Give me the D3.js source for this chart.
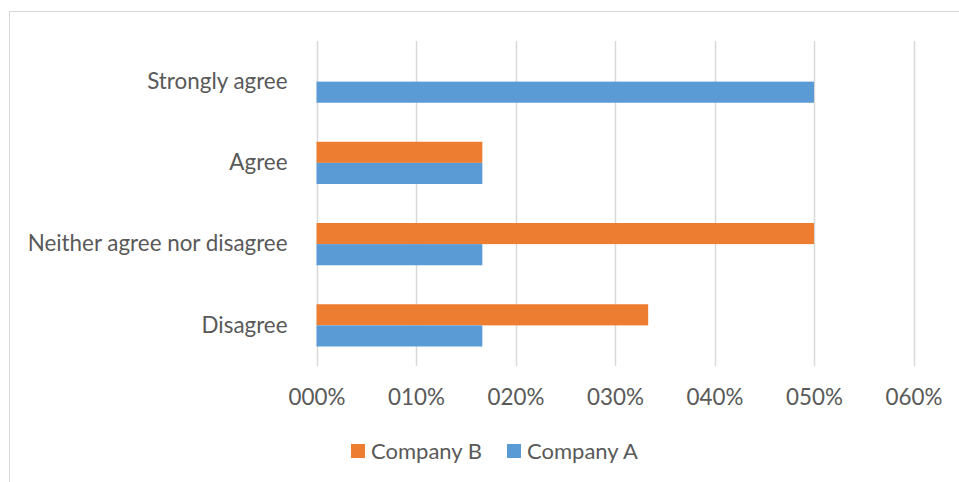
<!DOCTYPE html>
<html>
<head>
<meta charset="utf-8">
<script src="https://cdn.jsdelivr.net/npm/d3@7"></script>
<style>
  html, body { margin: 0; padding: 0; background: #fff; }
  svg { display: block; font-family: Lato, "Open Sans", sans-serif; }
</style>
</head>
<body>
<svg id="chart" width="959" height="482"></svg>
<script>
// Survey responses per answer category
const categories = ["Strongly agree", "Agree", "Neither agree nor disagree", "Disagree"];
const companyA = [0.5, 1 / 6, 1 / 6, 1 / 6];
const companyB = [0, 1 / 6, 0.5, 1 / 3];
const tickValues = [0, 0.1, 0.2, 0.3, 0.4, 0.5, 0.6];
const tickLabels = ["000%", "010%", "020%", "030%", "040%", "050%", "060%"];
const seriesNames = ["Company B", "Company A"];
const seriesColors = { "Company A": "#5B9BD5", "Company B": "#ED7D31" };

const FONT = "Lato, 'Open Sans', sans-serif";
const TEXT = "#595959";

const svg = d3.select("#chart");

// outer frame (runs off the right and bottom edges)
svg.append("rect")
  .attr("x", 9.5).attr("y", 11.5)
  .attr("width", 1000).attr("height", 1000)
  .attr("fill", "none").attr("stroke", "#D9D9D9").attr("stroke-width", 1);

const plot = { left: 316.5, right: 913.5, top: 41, bottom: 366 };

const x = d3.scaleLinear().domain([0, 0.6]).range([plot.left, plot.right]);
const y = d3.scaleBand().domain(categories).range([plot.top, plot.bottom]).paddingInner(0.48).paddingOuter(0.24);
const sub = d3.scaleBand().domain(["Company B", "Company A"]).range([0, y.bandwidth()]);

// vertical gridlines
svg.append("g").selectAll("line").data(tickValues).join("line")
  .attr("x1", d => Math.round(x(d)) + 0.5).attr("x2", d => Math.round(x(d)) + 0.5)
  .attr("y1", plot.top).attr("y2", plot.bottom)
  .attr("stroke", "#D9D9D9").attr("stroke-width", 1.5);

// bars
const rows = categories.map((c, i) => ({ cat: c, "Company A": companyA[i], "Company B": companyB[i] }));
const groups = svg.append("g").selectAll("g").data(rows).join("g")
  .attr("transform", d => `translate(0,${y(d.cat)})`);
groups.selectAll("rect")
  .data(d => ["Company B", "Company A"].map(k => ({ key: k, value: d[k] })))
  .join("rect")
  .attr("x", x(0))
  .attr("y", d => sub(d.key))
  .attr("width", d => x(d.value) - x(0))
  .attr("height", sub.bandwidth())
  .attr("fill", d => seriesColors[d.key]);

// x axis labels
const xAxis = d3.axisBottom(x).tickValues(tickValues).tickFormat((d, i) => tickLabels[i]).tickSize(0).tickPadding(0);
const gx = svg.append("g").attr("transform", `translate(0,${plot.bottom})`).call(xAxis);
gx.select(".domain").remove();
gx.selectAll("text")
  .attr("y", 39).attr("dy", null)
  .attr("fill", TEXT).style("font-size", "22.4px").style("font-family", FONT);

// y axis labels
const yAxis = d3.axisLeft(y).tickSize(0).tickPadding(29);
const gy = svg.append("g").attr("transform", `translate(${plot.left},0)`).call(yAxis);
gy.select(".domain").remove();
gy.selectAll("text")
  .attr("fill", TEXT).style("font-size", "22.4px").style("font-family", FONT);

// legend
const legend = svg.append("g").attr("transform", "translate(351,444)");
const legendX = [0, 156];
seriesNames.forEach((name, i) => {
  const g = legend.append("g").attr("transform", `translate(${legendX[i]},0)`);
  g.append("rect").attr("width", 14).attr("height", 14).attr("fill", seriesColors[name]);
  g.append("text").attr("x", 20).attr("y", 14.5)
    .attr("fill", TEXT).style("font-size", "22px").text(name);
});
</script>
</body>
</html>
